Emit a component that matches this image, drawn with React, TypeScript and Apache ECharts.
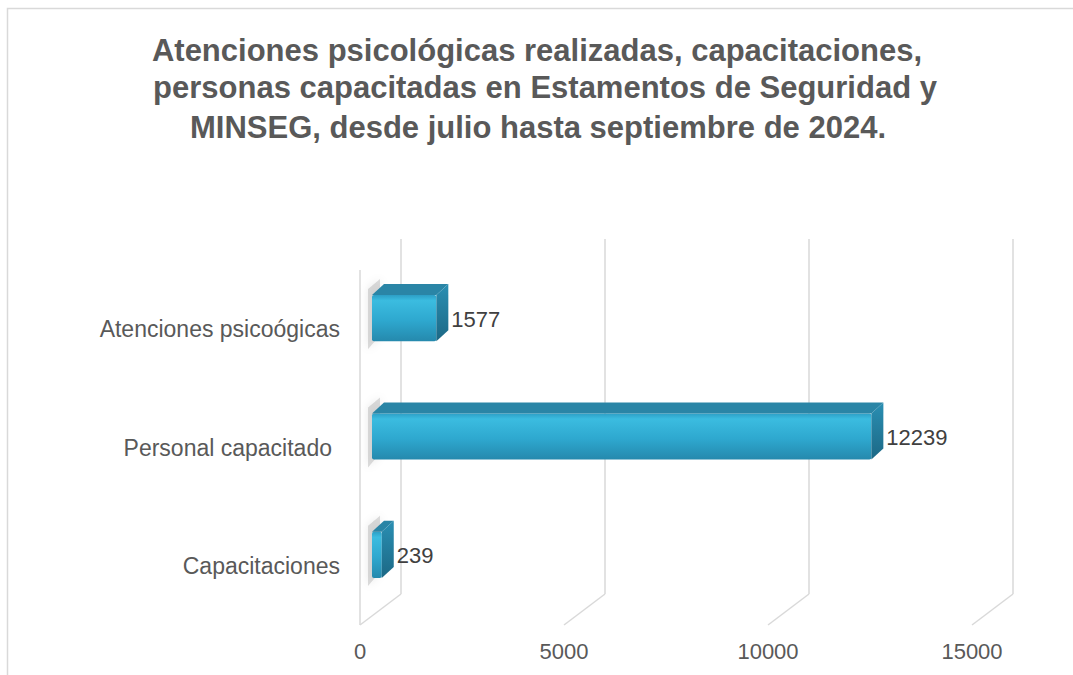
import React, { useEffect, useRef } from "react";
import * as echarts from "echarts";

const titleLines = [
  "Atenciones psicológicas realizadas, capacitaciones,",
  "personas capacitadas en Estamentos de Seguridad y",
  "MINSEG, desde julio hasta septiembre de 2024.",
];
const categories = ["Atenciones psicoógicas", "Personal capacitado", "Capacitaciones"];
const values = [1577, 12239, 239];
const xTicks = [0, 5000, 10000, 15000];

const FONT = "'Liberation Sans', Arial, sans-serif";
const GRID_COLOR = "#d9d9d9";

export default function App() {
  const ref = useRef<HTMLDivElement>(null);

  useEffect(() => {
    document.body.style.margin = "0";
    document.body.style.overflow = "hidden";
    const chart = echarts.init(ref.current!, undefined, { renderer: "svg" });

    const wallDX = 41;
    const wallDY = -31;
    const titleY = [50, 87, 127];
    const titleX = [537, 545, 538];

    const option: any = {
      animation: false,
      backgroundColor: "#ffffff",
      graphic: [
        {
          type: "rect",
          shape: { x: 7.5, y: 8.5, width: 2000, height: 2000 },
          style: { fill: "none", stroke: GRID_COLOR, lineWidth: 1.5 },
          silent: true,
          z: -10,
        },
        ...titleLines.map((line, i) => ({
          type: "text",
          x: titleX[i],
          y: titleY[i],
          silent: true,
          style: {
            text: line,
            align: "center",
            verticalAlign: "middle",
            fontFamily: FONT,
            fontSize: 31,
            fontWeight: "bold",
            fill: "#595959",
          },
        })),
      ],
      grid: { left: 360, top: 270, width: 612, height: 355, containLabel: false },
      xAxis: {
        type: "value",
        min: 0,
        max: 15000,
        interval: 5000,
        axisLine: { show: false },
        axisTick: { show: false },
        splitLine: { show: false },
        axisLabel: {
          margin: 15,
          fontFamily: FONT,
          fontSize: 22,
          color: "#595959",
          formatter: (v: number) => String(v),
        },
      },
      yAxis: {
        type: "category",
        data: categories.map((c, i) =>
          i === 1 ? { value: c, textStyle: { padding: [6, 8, 0, 0] } } : c
        ),
        inverse: true,
        axisLine: { show: false },
        axisTick: { show: false },
        splitLine: { show: false },
        axisLabel: {
          margin: 20,
          fontFamily: FONT,
          fontSize: 23,
          color: "#595959",
          padding: [6, 0, 0, 0],
        },
      },
      series: [
        {
          type: "custom",
          name: "grid",
          silent: true,
          encode: { x: 0, y: 1 },
          data: xTicks.map((t) => [t, 0]),
          z: 1,
          renderItem: (params: any, api: any) => {
            const cs = params.coordSys;
            const x = api.coord([api.value(0), 0])[0];
            const top = cs.y;
            const bottom = cs.y + cs.height;
            const lineStyle = { stroke: GRID_COLOR, lineWidth: 1.5 };
            const children: any[] = [
              {
                type: "line",
                shape: { x1: x + wallDX, y1: top + wallDY, x2: x + wallDX, y2: bottom + wallDY },
                style: lineStyle,
              },
              {
                type: "line",
                shape: { x1: x, y1: bottom, x2: x + wallDX, y2: bottom + wallDY },
                style: lineStyle,
              },
            ];
            if (api.value(0) === 0) {
              children.push({
                type: "line",
                shape: { x1: x, y1: top, x2: x, y2: bottom },
                style: lineStyle,
              });
            }
            return { type: "group", children };
          },
        },
        {
          type: "custom",
          name: "bars",
          encode: { x: 0, y: 1 },
          data: values.map((v, i) => [v, i]),
          z: 5,
          renderItem: (params: any, api: any) => {
            const v = api.value(0);
            const ci = api.value(1);
            const p0 = api.coord([0, ci]);
            const p1 = api.coord([v, ci]);
            const band = api.size([0, 1])[1];
            const h = band * 0.39;
            const offX = 12;
            const offY = -11;
            const dX = 12;
            const dY = -11;
            const xl = p0[0] + offX;
            const xr = p1[0] + offX;
            const cy = p0[1] + offY;
            const t = cy - h / 2;
            const b = cy + h / 2;
            return {
              type: "group",
              children: [
                {
                  type: "polygon",
                  shape: {
                    points: [
                      [xl - 4, t - 6],
                      [xl + 8, t - 16],
                      [xl + 8, b - 6],
                      [xl - 4, b + 8],
                    ],
                  },
                  style: {
                    fill: "rgba(140,140,140,0.3)",
                    shadowBlur: 8,
                    shadowColor: "rgba(0,0,0,0.3)",
                  },
                },
                {
                  type: "rect",
                  shape: { x: xl, y: t, width: Math.max(xr - xl, 1), height: h, r: 2 },
                  style: {
                    fill: new echarts.graphic.LinearGradient(0, 0, 0, 1, [
                      { offset: 0, color: "#2d9fc6" },
                      { offset: 0.12, color: "#3bbce0" },
                      { offset: 0.55, color: "#2ea8cf" },
                      { offset: 1, color: "#2589ad" },
                    ]),
                  },
                },
                {
                  type: "polygon",
                  shape: {
                    points: [
                      [xl, t],
                      [xr, t],
                      [xr + dX, t + dY],
                      [xl + dX, t + dY],
                    ],
                  },
                  style: { fill: "#2a85a6" },
                },
                {
                  type: "polygon",
                  shape: {
                    points: [
                      [xr, t],
                      [xr + dX, t + dY],
                      [xr + dX, b + dY],
                      [xr, b],
                    ],
                  },
                  style: {
                    fill: new echarts.graphic.LinearGradient(0, 0, 0, 1, [
                      { offset: 0, color: "#2a8fb3" },
                      { offset: 1, color: "#1c6885" },
                    ]),
                  },
                },
                {
                  type: "text",
                  style: {
                    text: String(v),
                    x: xr + dX + 3,
                    y: cy + 1,
                    verticalAlign: "middle",
                    align: "left",
                    fontFamily: FONT,
                    fontSize: 22,
                    fill: "#404040",
                  },
                },
              ],
            };
          },
        },
      ],
    };

    chart.setOption(option);
    return () => chart.dispose();
  }, []);

  return <div ref={ref} style={{ width: 1073, height: 675 }} />;
}
